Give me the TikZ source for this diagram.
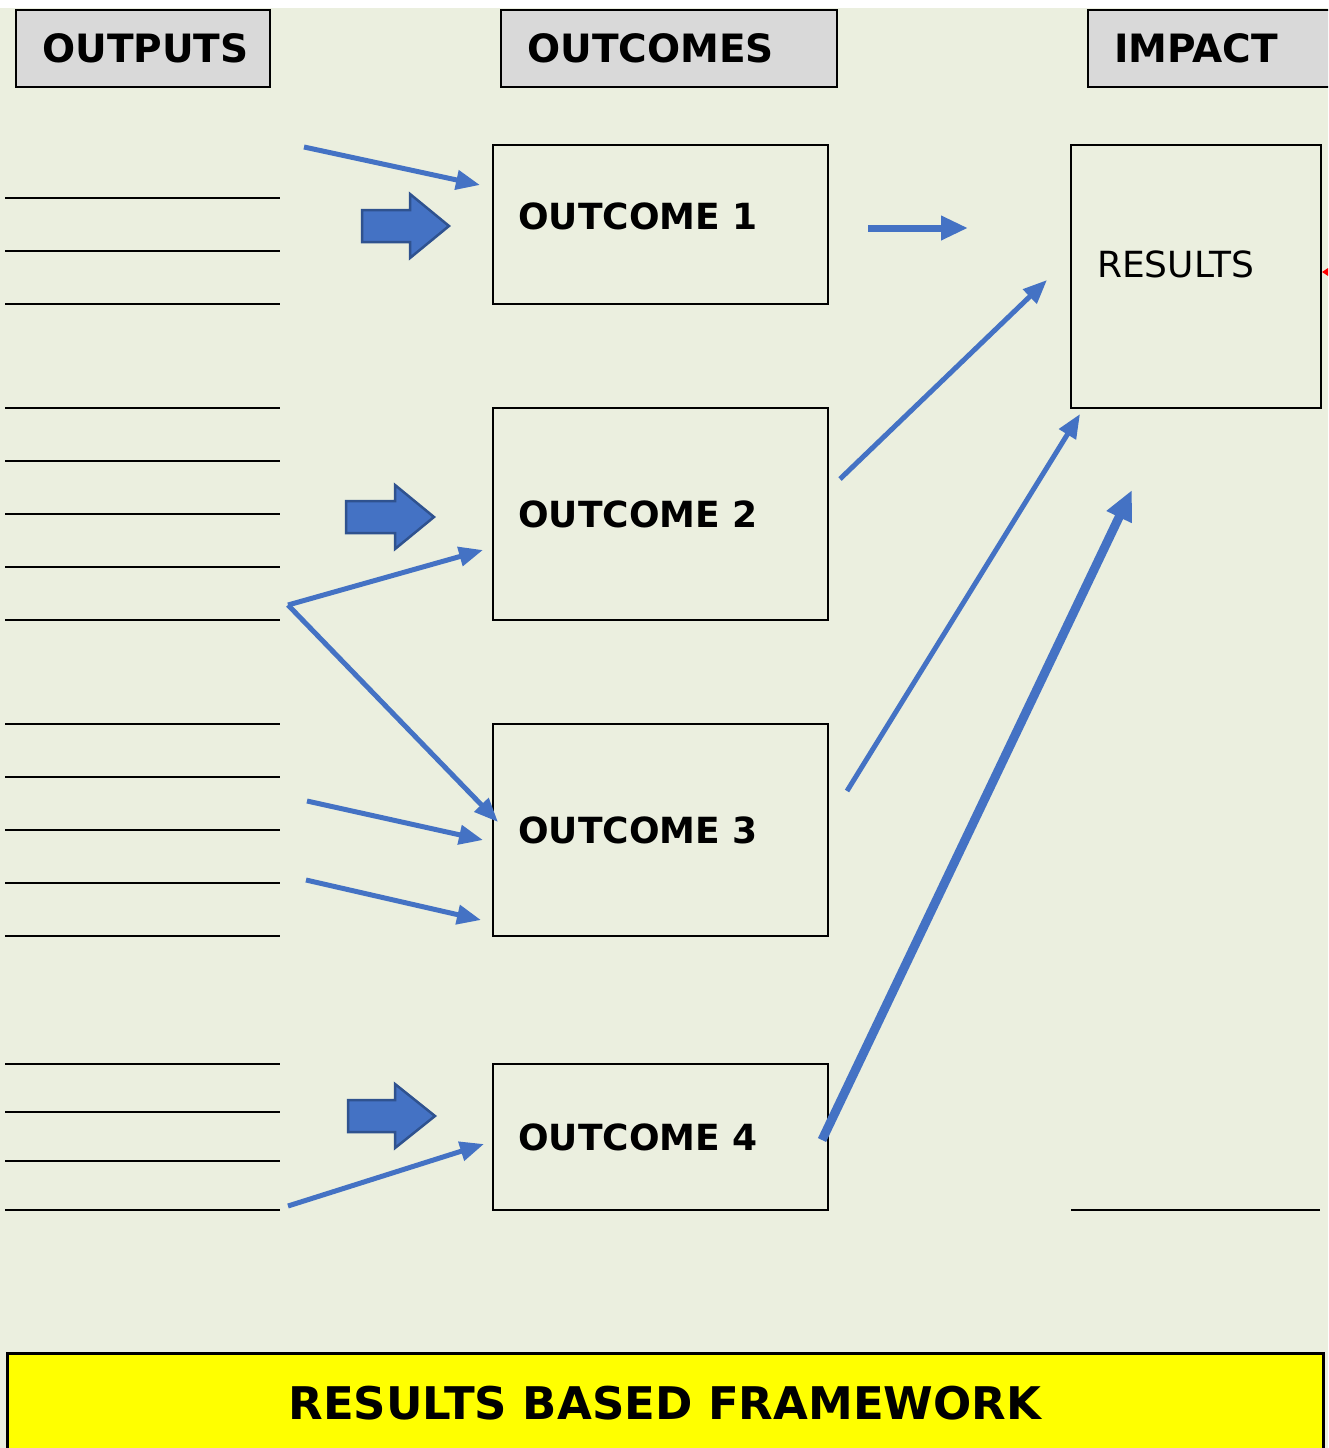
\documentclass[tikz,border=0pt]{standalone}
\usepackage{fontspec}
\setmainfont{DejaVu Sans}
\usetikzlibrary{arrows.meta}
\definecolor{pagebg}{HTML}{EBEFDF}
\definecolor{headgray}{HTML}{D9D9D9}
\definecolor{arrowblue}{HTML}{4472C4}
\definecolor{arrowedge}{HTML}{2F528F}
\definecolor{bannery}{HTML}{FFFF00}
\tikzset{
  framebox/.style={draw=black, line width=2.4pt},
  headbox/.style={framebox, fill=headgray},
  headtext/.style={anchor=base west, inner sep=0pt, font=\fontsize{39}{39}\selectfont\bfseries},
  boxtext/.style={anchor=base west, inner sep=0pt, font=\fontsize{36}{36}\selectfont\bfseries},
  ruleline/.style={draw=black, line width=2pt},
  fatfill/.style={draw=arrowedge, fill=arrowblue, line width=2.5pt, line join=miter},
  % block arrow: #1 = shaft length, #2 = head length
  pics/fatarrow/.style 2 args={code={
    \draw[fatfill] (0,-16) -- (#1,-16) -- (#1,-32) -- ({#1+#2},0) -- (#1,32) -- (#1,16) -- (0,16) -- cycle;
  }},
  linkarrow/.style={draw=arrowblue, line width=5pt, -{Triangle[length=24pt,width=19pt]}},
  widearrow/.style={draw=arrowblue, line width=7pt, -{Triangle[length=27pt,width=23pt]}},
  boldarrow/.style={draw=arrowblue, line width=9pt, -{Triangle[length=30pt,width=26pt]}},
}
\begin{document}
\begin{tikzpicture}[x=1pt,y=-1pt]
\useasboundingbox (0,0) rectangle (1328,1448);
\clip (0,0) rectangle (1328,1448);
\fill[white] (0,0) rectangle (1328,1448);
\fill[pagebg] (0,8) rectangle (1328,1448);

% column headers
\draw[headbox] (16,10) rectangle (270,87);
\node[headtext] (hout) at (42,62) {OUTPUTS};
\draw[headbox] (501,10) rectangle (837,87);
\node[headtext] (hcome) at (527,62) {OUTCOMES};
\draw[headbox] (1088,10) rectangle (1340,87);
\node[headtext] (himp) at (1114,62) {IMPACT};

% outcome boxes
\draw[framebox] (493,145) rectangle (828,304);
\node[boxtext] (o1) at (518,229) {OUTCOME 1};
\draw[framebox] (493,408) rectangle (828,620);
\node[boxtext] (o2) at (518,527) {OUTCOME 2};
\draw[framebox] (493,724) rectangle (828,936);
\node[boxtext] (o3) at (518,843) {OUTCOME 3};
\draw[framebox] (493,1064) rectangle (828,1210);
\node[boxtext] (o4) at (518,1150) {OUTCOME 4};

% impact box
\draw[framebox] (1071,145) rectangle (1321,408);
\node[anchor=base west, inner sep=0pt, font=\fontsize{36}{36}\selectfont] (res) at (1097,277) {RESULTS};
\fill[red] (1322,272) -- (1328,268) -- (1328,276) -- cycle;
\draw[ruleline] (1071,1210) -- (1320,1210);

% output rules
\foreach \yy in {198,251,304,408,461,514,567,620,724,777,830,883,936,1064,1112,1161,1210}
  \draw[ruleline] (5,\yy) -- (280,\yy);

% block arrows
\pic (b1) at (362,226) {fatarrow={48}{39}};
\pic (b2) at (346,517) {fatarrow={49}{39}};
\pic (b3) at (348,1116) {fatarrow={47}{40}};

% link arrows
\coordinate (s1) at (304,147);  \coordinate (t1) at (480,185);
\coordinate (s2) at (868,228);  \coordinate (t2) at (968,228);
\coordinate (s3) at (840,479);  \coordinate (t3) at (1047,280);
\coordinate (fork) at (288,605);
\coordinate (t4) at (483,550);
\coordinate (t5) at (498,822);
\coordinate (s6) at (307,801);  \coordinate (t6) at (483,840);
\coordinate (s7) at (306,880);  \coordinate (t7) at (481,920);
\coordinate (s8) at (288,1206); \coordinate (t8) at (484,1144);
\coordinate (s9) at (847,791);  \coordinate (t9) at (1080,414);
\coordinate (s10) at (822,1140); \coordinate (t10) at (1132,490);

\draw[linkarrow] (s1) -- (t1);
\draw[widearrow] (s2) -- (t2);
\draw[linkarrow] (s3) -- (t3);
\draw[linkarrow] (fork) -- (t4);
\draw[linkarrow] (fork) -- (t5);
\draw[linkarrow] (s6) -- (t6);
\draw[linkarrow] (s7) -- (t7);
\draw[linkarrow] (s8) -- (t8);
\draw[linkarrow] (s9) -- (t9);
\draw[boldarrow] (s10) -- (t10);

% banner
\draw[draw=black, line width=3pt, fill=bannery] (7,1353) rectangle (1323,1470);
\node[anchor=base, inner sep=0pt, font=\fontsize{45}{45}\selectfont\bfseries] (banner) at (665,1419) {RESULTS BASED FRAMEWORK};
\end{tikzpicture}
\end{document}
